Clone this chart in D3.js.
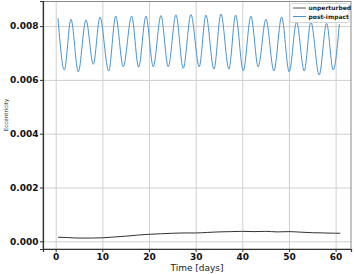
<!DOCTYPE html>
<html>
<head>
<meta charset="utf-8">
<script src="https://cdn.jsdelivr.net/npm/d3@7"></script>
<style>
  body { margin: 0; background: #fff; }
  svg { display: block; font-family: "DejaVu Sans", sans-serif; }
</style>
</head>
<body>
<div id="chart"></div>
<script>
// Values.
var xTicks = [0, 10, 20, 30, 40, 50, 60];
var yTicks = [0, 0.002, 0.004, 0.006, 0.008];

// post-impact: turning points of the oscillation (days, eccentricity)
var postTimes = [0.5, 1.84, 3.28, 4.84, 6.49, 8.06, 9.49, 11.36, 12.86, 14.48,
  16.28, 17.78, 19.35, 20.91, 22.56, 24.13, 25.78, 27.34, 28.99, 30.77,
  32.2, 33.92, 35.42, 37.13, 38.57, 40.2, 41.85, 43.41, 45.06, 46.78,
  48.43, 50.05, 51.64, 53.27, 54.7, 56.48, 58.07, 59.48, 60.81];
var postValues = [0.00829, 0.00637, 0.00825, 0.0063, 0.00823, 0.00658, 0.00833, 0.00633, 0.00837, 0.00649,
  0.00837, 0.00647, 0.00837, 0.00649, 0.00839, 0.00649, 0.00842, 0.00643, 0.00843, 0.00649,
  0.00841, 0.0064, 0.00845, 0.0064, 0.00841, 0.00634, 0.00837, 0.00649, 0.00825, 0.00633,
  0.00834, 0.0063, 0.00815, 0.00633, 0.00816, 0.00618, 0.0081, 0.00637, 0.00808];

// unperturbed
var unpertTimes = [0.5, 2.5, 5, 7.5, 10, 12.5, 15, 17.5, 20, 22.5, 25, 27.5, 30,
  32.5, 35, 37.5, 40, 42.5, 45, 47.5, 50, 52.5, 55, 57.5, 60, 61];
var unpertValues = [0.00015, 0.00014, 0.00012, 0.00012, 0.00013, 0.00016, 0.00019, 0.00023, 0.00026, 0.00028, 0.0003, 0.00031, 0.00031,
  0.00033, 0.00035, 0.00036, 0.00037, 0.00036, 0.00037, 0.00035, 0.00036, 0.00034, 0.00032, 0.00031, 0.0003, 0.0003];

var seriesNames = ["unperturbed", "post-impact"];
var seriesColors = ["#333333", "#4a94cf"];

(function(){
  // Layout.
  var width = 355, height = 274,
      plotLeft = 43, plotRight = 351, plotTop = 1, plotBottom = 249;

  var svg = d3.select("#chart").append("svg")
    .attr("width", width)
    .attr("height", height);

  var x = d3.scaleLinear().domain([-2.72, 63.3]).range([plotLeft, plotRight]);
  var y = d3.scaleLinear().domain([-0.000286, 0.008933]).range([plotBottom, plotTop]);

  // Grid.
  svg.append("g")
    .attr("transform", "translate(0," + plotBottom + ")")
    .call(d3.axisBottom(x).tickValues(xTicks).tickSize(-(plotBottom - plotTop)).tickFormat(""))
    .call(function(g){
      g.select(".domain").remove();
      g.selectAll("line").attr("stroke", "#cfcfcf").attr("stroke-width", 1);
    });
  svg.append("g")
    .attr("transform", "translate(" + plotLeft + ",0)")
    .call(d3.axisLeft(y).tickValues(yTicks).tickSize(-(plotRight - plotLeft)).tickFormat(""))
    .call(function(g){
      g.select(".domain").remove();
      g.selectAll("line").attr("stroke", "#cfcfcf").attr("stroke-width", 1);
    });

  // Lines.
  var line = d3.line()
    .x(function(d){ return x(d[0]); })
    .y(function(d){ return y(d[1]); })
    .curve(d3.curveMonotoneX);

  svg.append("path")
    .datum(unpertTimes.map(function(t, i){ return [t, unpertValues[i]]; }))
    .attr("d", line)
    .attr("fill", "none")
    .attr("stroke", seriesColors[0])
    .attr("stroke-width", 1);

  svg.append("path")
    .datum(postTimes.map(function(t, i){ return [t, postValues[i]]; }))
    .attr("d", line)
    .attr("fill", "none")
    .attr("stroke", seriesColors[1])
    .attr("stroke-width", 1);

  // Frame.
  svg.append("rect")
    .attr("x", plotLeft).attr("y", plotTop + 0.5)
    .attr("width", plotRight - plotLeft).attr("height", plotBottom - plotTop - 0.5)
    .attr("fill", "none")
    .attr("stroke", "#8a8a8a")
    .attr("stroke-width", 1);

  // Axes.
  var xAxis = svg.append("g")
    .attr("transform", "translate(0," + plotBottom + ")")
    .call(d3.axisBottom(x).tickValues(xTicks).tickSize(3).tickPadding(2).tickFormat(d3.format("d")));
  var yAxis = svg.append("g")
    .attr("transform", "translate(" + plotLeft + ",0)")
    .call(d3.axisLeft(y).tickValues(yTicks).tickSize(3).tickPadding(1.5).tickFormat(d3.format(".3f")));

  [xAxis, yAxis].forEach(function(g){
    g.select(".domain").attr("stroke", "#333").attr("stroke-width", 1.2);
    g.selectAll(".tick line").attr("stroke", "#333");
    g.selectAll(".tick text")
      .attr("fill", "#111")
      .style("font-size", "9px")
      .style("font-weight", "bold")
      .style("font-family", "DejaVu Sans");
  });

  // Axis labels.
  svg.append("text")
    .attr("x", (plotLeft + plotRight) / 2)
    .attr("y", 270.5)
    .attr("text-anchor", "middle")
    .style("font-size", "9px")
    .attr("fill", "#222")
    .text("Time [days]");

  svg.append("text")
    .attr("transform", "translate(7.5,115) rotate(-90)")
    .attr("text-anchor", "middle")
    .style("font-size", "5.5px")
    .attr("fill", "#222")
    .text("Eccentricity");

  // Legend.
  var legend = svg.append("g");
  legend.append("rect")
    .attr("x", 290).attr("y", 3.5)
    .attr("width", 59).attr("height", 19)
    .attr("rx", 1.5)
    .attr("fill", "#fff")
    .attr("fill-opacity", 0.85)
    .attr("stroke", "#cccccc")
    .attr("stroke-width", 0.8);

  seriesNames.forEach(function(name, i){
    var ly = 8 + i * 8.5;
    legend.append("line")
      .attr("x1", 293).attr("x2", 306)
      .attr("y1", ly).attr("y2", ly)
      .attr("stroke", i === 0 ? "#555" : seriesColors[1])
      .attr("stroke-width", 1);
    legend.append("text")
      .attr("x", 308.5).attr("y", ly)
      .attr("dy", "0.35em")
      .style("font-size", "6px")
      .style("font-weight", "bold")
      .attr("fill", "#222")
      .text(name);
  });
})();
</script>
</body>
</html>
